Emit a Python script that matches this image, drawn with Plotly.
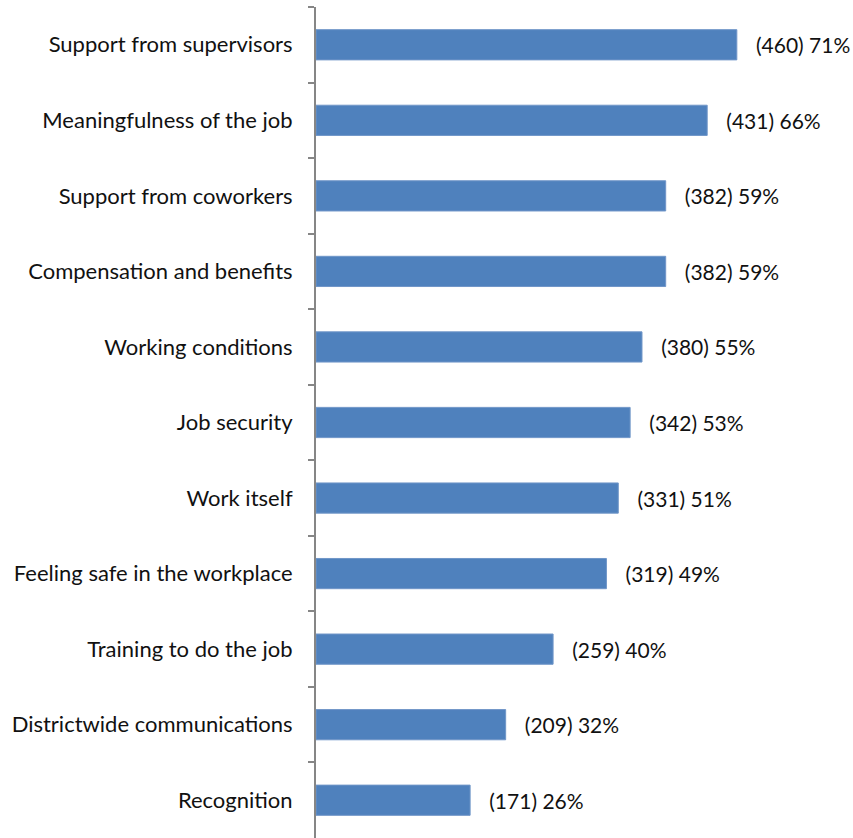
import plotly.graph_objects as go

# Survey factors, top to bottom
categories = [
    "Support from supervisors",
    "Meaningfulness of the job",
    "Support from coworkers",
    "Compensation and benefits",
    "Working conditions",
    "Job security",
    "Work itself",
    "Feeling safe in the workplace",
    "Training to do the job",
    "Districtwide communications",
    "Recognition",
]
counts = [460, 431, 382, 382, 380, 342, 331, 319, 259, 209, 171]
percents = [71, 66, 59, 59, 55, 53, 51, 49, 40, 32, 26]

NBSP = "\u00a0"
labels = [f"{NBSP * 3}({c}) {p}%" for c, p in zip(counts, percents)]

FONT = "Lato"
TEXT_COLOR = "#111111"
AXIS_COLOR = "#868686"

fig = go.Figure(
    go.Bar(
        x=percents,
        y=categories,
        orientation="h",
        marker=dict(color="#4F81BD", line=dict(color="#7096C8", width=1)),
        text=labels,
        textposition="outside",
        constraintext="none",
        cliponaxis=False,
        textfont=dict(family=FONT, size=21, color=TEXT_COLOR),
        hoverinfo="skip",
    )
)

fig.update_layout(
    width=853, height=838,
    margin=dict(l=316, r=0, t=7, b=0),
    paper_bgcolor="white", plot_bgcolor="white",
    bargap=0.6,
    showlegend=False,
    font=dict(family=FONT, size=22, color=TEXT_COLOR),
)
fig.update_xaxes(
    range=[0, 90.6], visible=False, showgrid=False, zeroline=False,
)
fig.update_yaxes(
    type="category", autorange="reversed",
    showline=True, linecolor=AXIS_COLOR, linewidth=2,
    ticks="outside", tickson="boundaries", ticklen=6,
    tickcolor=AXIS_COLOR, tickwidth=1.5,
    ticklabelstandoff=17,
    showgrid=False, zeroline=False,
    tickfont=dict(family=FONT, size=22, color=TEXT_COLOR),
)

fig.write_html("out.html")
